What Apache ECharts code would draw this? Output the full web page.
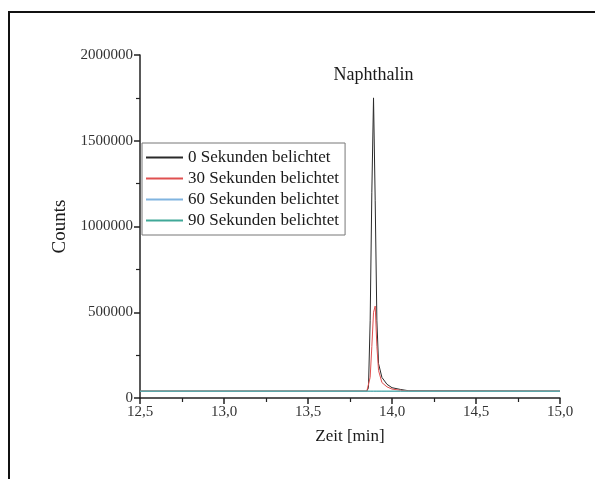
<!DOCTYPE html>
<html><head><meta charset="utf-8">
<script src="https://cdn.jsdelivr.net/npm/echarts@6/dist/echarts.min.js"></script>
<style>html,body{margin:0;padding:0;background:#fff}#c{width:595px;height:479px}</style>
</head><body><div id="c"></div>
<script>
const seriesNames = ['0 Sekunden belichtet','30 Sekunden belichtet','60 Sekunden belichtet','90 Sekunden belichtet'];
const time = [12.5, 13.85, 13.86, 13.87, 13.88, 13.89, 13.9, 13.91, 13.92, 13.94, 13.97, 14.0, 14.05, 14.1, 15.0];
const s0  = [40000, 40000, 60000, 450000, 1200000, 1750000, 1150000, 450000, 200000, 120000, 80000, 60000, 50000, 42000, 40000];
const s30 = [40000, 40000, 45000, 120000, 300000, 500000, 536000, 300000, 160000, 90000, 65000, 52000, 45000, 41000, 40000];
const s60 = [39000, 39000, 39000, 39000, 39000, 39000, 39000, 39000, 39000, 39000, 39000, 39000, 39000, 39000, 39000];
const s90 = [40000, 40000, 40000, 40000, 40000, 40000, 40000, 40000, 40000, 40000, 40000, 40000, 40000, 40000, 40000];
const colors = ['#2a2a2a','#e05050','#80b4e0','#40a898'];
const xTicks = {min:12.5, max:15.0, interval:0.5};
const yTicks = {min:0, max:2000000, interval:500000};
const peakLabel = 'Naphthalin';
const peakPos = [13.89, 1750000];

const font = '"Liberation Serif","DejaVu Serif",serif';
const allData = [s0, s30, s60, s90];
const chart = echarts.init(document.getElementById('c'), null, {renderer:'canvas'});
chart.setOption({
  animation:false,
  backgroundColor:'#fff',
  graphic:[{type:'rect', shape:{x:9,y:12,width:620,height:520}, style:{fill:'none', stroke:'#111', lineWidth:2}, silent:true}],
  grid:{left:140, right:35, top:55, bottom:81},
  legend:{
    data:seriesNames, orient:'vertical', left:142, top:143,
    icon:'rect', itemWidth:37, itemHeight:2, itemGap:4,
    borderColor:'#777', borderWidth:1, padding:[6,6,6,4],
    textStyle:{fontFamily:font, fontSize:17, color:'#1a1a1a'}
  },
  xAxis:{
    type:'value', min:xTicks.min, max:xTicks.max, interval:xTicks.interval,
    name:'Zeit [min]', nameLocation:'middle', nameGap:30,
    nameTextStyle:{fontFamily:font, fontSize:17, color:'#1a1a1a'},
    axisLine:{onZero:false, lineStyle:{color:'#222', width:1.5}},
    axisTick:{show:true, inside:false, length:6, lineStyle:{color:'#222', width:1.5}},
    minorTick:{show:true, splitNumber:2, length:4, lineStyle:{color:'#222', width:1.2}},
    splitLine:{show:false},
    axisLabel:{fontFamily:font, fontSize:15, color:'#333', margin:7,
      formatter:v=>v.toFixed(1).replace('.',',')}
  },
  yAxis:{
    type:'value', min:yTicks.min, max:yTicks.max, interval:yTicks.interval,
    name:'Counts', nameLocation:'middle', nameGap:68, nameRotate:90,
    nameTextStyle:{fontFamily:font, fontSize:19, color:'#1a1a1a'},
    axisLine:{show:true, onZero:false, lineStyle:{color:'#222', width:1.5}},
    axisTick:{show:true, inside:false, length:6, lineStyle:{color:'#222', width:1.5}},
    minorTick:{show:true, splitNumber:2, length:4, lineStyle:{color:'#222', width:1.2}},
    splitLine:{show:false},
    axisLabel:{fontFamily:font, fontSize:15, color:'#333', margin:7, formatter:v=>String(v)}
  },
  series: seriesNames.map((n,i)=>({
    name:n, type:'line', symbol:'none', color:colors[i],
    itemStyle:{color:colors[i]},
    lineStyle:{width:1, color:colors[i]},
    data: time.map((t,k)=>[t, allData[i][k]]),
    z: 2 + i,
    markPoint: i===0 ? {
      symbol:'circle', symbolSize:0,
      data:[{coord:peakPos, value:peakLabel}],
      label:{show:true, position:'top', distance:14, formatter:peakLabel,
        fontFamily:font, fontSize:18, color:'#1a1a1a'}
    } : undefined
  }))
});
</script></body></html>
